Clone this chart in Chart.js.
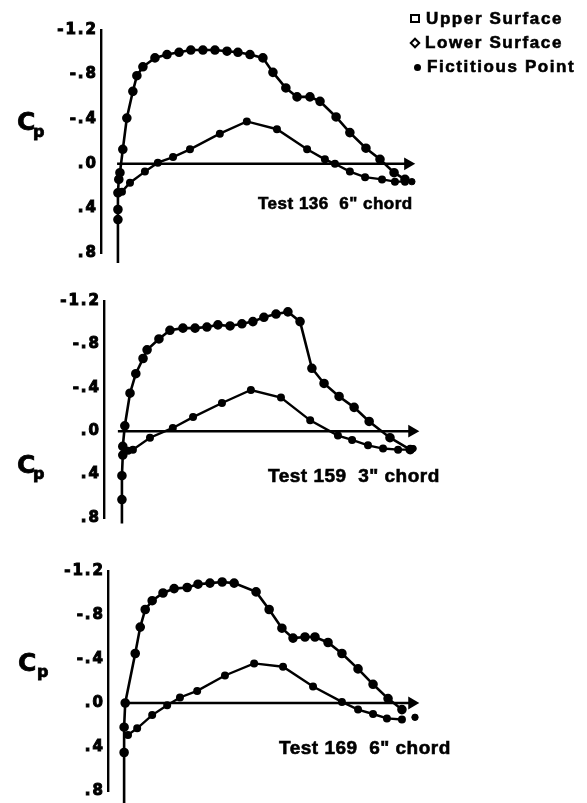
<!DOCTYPE html>
<html>
<head>
<meta charset="utf-8">
<script src="https://cdn.jsdelivr.net/npm/chart.js@4.4.1/dist/chart.umd.min.js"></script>
<style>
  body { margin: 0; background: #fff; }
  #page { position: relative; width: 587px; height: 803px; overflow: hidden; color: #000;
          font-family: "Liberation Sans", Arial, sans-serif; font-weight: bold; }
  canvas { position: absolute; left: 0; }
  .cp { position: absolute; font-size: 25px; line-height: 1; font-family: "DejaVu Sans", sans-serif; -webkit-text-stroke: 0.8px #000; }
  .cp span { position: absolute; font-size: 16px; line-height: 1; }
  .ttl { position: absolute; white-space: pre; line-height: 1; letter-spacing: 0.5px; -webkit-text-stroke: 0.6px #000; }
  .leg { position: absolute; left: 410px; font-size: 17px; line-height: 1; letter-spacing: 1.6px; white-space: pre; -webkit-text-stroke: 0.6px #000; }
  .leg i { display: inline-block; box-sizing: border-box; margin-right: 6px; vertical-align: 1px; }
  .sq { width: 10px; height: 9px; border: 2px solid #000; }
  .dm { width: 8px; height: 8px; border: 2px solid #000; transform: rotate(45deg); margin-left: 1px; }
  .dt { width: 7px; height: 7px; border-radius: 50%; background: #000; margin-left: 4px; }
</style>
</head>
<body>
<div id="page">
  <canvas id="c136" width="587" height="270" style="top:0px"></canvas>
  <canvas id="c159" width="587" height="260" style="top:270px"></canvas>
  <canvas id="c169" width="587" height="273" style="top:530px"></canvas>

  <div class="leg" style="top:10px"><i class="sq"></i>Upper Surface</div>
  <div class="leg" style="top:34px"><i class="dm"></i>Lower Surface</div>
  <div class="leg" style="top:58px"><i class="dt"></i>Fictitious Point</div>

  <div class="cp" style="left:17px;top:109px">C<span style="left:16px;top:15px">p</span></div>
  <div class="cp" style="left:17px;top:452px">C<span style="left:16px;top:14px">p</span></div>
  <div class="cp" style="left:18px;top:650px">C<span style="left:19px;top:14px">p</span></div>

  <div class="ttl" style="left:258px;top:195px;font-size:17px">Test 136  6" chord</div>
  <div class="ttl" style="left:268px;top:466px;font-size:19px">Test 159  3" chord</div>
  <div class="ttl" style="left:279px;top:738px;font-size:19px">Test 169  6" chord</div>
</div>

<script>
// y axis (Cp, negative up)
var cpTicks = [-1.2, -0.8, -0.4, 0, 0.4, 0.8];
var cpTickLabels = ['-1.2', '-.8', '-.4', '.0', '.4', '.8'];

// Test 136, 6" chord  (x/c, Cp)
var t136UpperX  = [0, 0, 0, 0, 0.003, 0.007, 0.017, 0.031, 0.052, 0.066, 0.087, 0.129, 0.171, 0.213, 0.254, 0.296, 0.338, 0.380, 0.418, 0.460, 0.505, 0.540, 0.585, 0.624, 0.669, 0.704, 0.760, 0.808, 0.864, 0.913, 0.962, 1.0];
var t136UpperCp = [0.89, 0.50, 0.41, 0.26, 0.14, 0.08, -0.13, -0.41, -0.65, -0.79, -0.87, -0.95, -0.98, -1.00, -1.02, -1.02, -1.02, -1.01, -1.00, -0.98, -0.95, -0.82, -0.68, -0.60, -0.60, -0.56, -0.42, -0.28, -0.14, -0.04, 0.08, 0.14];
var t136LowerX  = [0, 0.014, 0.042, 0.094, 0.139, 0.192, 0.251, 0.355, 0.449, 0.554, 0.659, 0.721, 0.756, 0.808, 0.861, 0.920, 0.965, 1.0];
var t136LowerCp = [0.26, 0.25, 0.17, 0.07, -0.01, -0.06, -0.13, -0.27, -0.38, -0.31, -0.13, -0.04, 0.0, 0.07, 0.12, 0.14, 0.16, 0.16];
var t136Fict = [1.024, 0.16];

// Test 159, 3" chord
var t159UpperX  = [0, 0, 0, 0.003, 0.003, 0.010, 0.028, 0.048, 0.073, 0.087, 0.128, 0.166, 0.211, 0.253, 0.294, 0.332, 0.374, 0.415, 0.453, 0.491, 0.533, 0.574, 0.616, 0.657, 0.699, 0.751, 0.803, 0.855, 0.927, 0.997];
var t159UpperCp = [0.85, 0.63, 0.41, 0.22, 0.14, -0.05, -0.35, -0.53, -0.67, -0.75, -0.85, -0.93, -0.95, -0.95, -0.96, -0.98, -0.97, -0.99, -1.01, -1.05, -1.08, -1.10, -1.01, -0.58, -0.44, -0.32, -0.22, -0.09, 0.06, 0.17];
var t159LowerX  = [0.003, 0.021, 0.038, 0.097, 0.176, 0.246, 0.346, 0.446, 0.550, 0.651, 0.747, 0.796, 0.851, 0.903, 0.955, 0.997];
var t159LowerCp = [0.22, 0.18, 0.17, 0.06, -0.03, -0.13, -0.26, -0.38, -0.31, -0.10, 0.04, 0.08, 0.13, 0.16, 0.17, 0.17];
var t159Fict = [1.007, 0.16];

// Test 169, 6" chord
var t169UpperX  = [0, 0, 0, 0.004, 0.040, 0.058, 0.076, 0.101, 0.140, 0.180, 0.227, 0.266, 0.309, 0.353, 0.396, 0.475, 0.522, 0.568, 0.608, 0.651, 0.687, 0.734, 0.784, 0.842, 0.896, 0.950, 1.0];
var t169UpperCp = [0.91, 0.45, 0.22, 0.0, -0.45, -0.69, -0.85, -0.93, -1.00, -1.04, -1.05, -1.08, -1.09, -1.10, -1.09, -1.01, -0.85, -0.68, -0.59, -0.60, -0.60, -0.55, -0.45, -0.31, -0.17, -0.04, 0.06];
var t169LowerX  = [0.014, 0.047, 0.101, 0.155, 0.201, 0.263, 0.363, 0.468, 0.572, 0.680, 0.784, 0.842, 0.896, 0.946, 1.0];
var t169LowerCp = [0.29, 0.23, 0.11, 0.02, -0.05, -0.11, -0.25, -0.36, -0.33, -0.15, -0.01, 0.06, 0.10, 0.14, 0.15];
var t169Fict = [1.047, 0.13];

function pts(xs, ys) {
    return xs.map(function (x, i) { return { x: x, y: ys[i] }; });
}

// wide lettering like the scanned figure
var spacing = {
    id: 'spacing',
    beforeDraw: function (chart) { chart.ctx.letterSpacing = '2px'; },
    afterDraw: function (chart) { chart.ctx.letterSpacing = '0px'; }
};

var panels = [
    { id: 'c136', ux: t136UpperX, uy: t136UpperCp, lx: t136LowerX, ly: t136LowerCp, fict: t136Fict,
      chord: [-0.003, 1.010], xr: [-0.059, 1.122], pad: { top: 30, bottom: 17, left: 41, right: 147 } },
    { id: 'c159', ux: t159UpperX, uy: t159UpperCp, lx: t159LowerX, ly: t159LowerCp, fict: t159Fict,
      chord: [-0.014, 1.003], xr: [-0.062, 1.100], pad: { top: 31, bottom: 9, left: 44, right: 147 } },
    { id: 'c169', ux: t169UpperX, uy: t169UpperCp, lx: t169LowerX, ly: t169LowerCp, fict: t169Fict,
      chord: [0.004, 1.036], xr: [-0.058, 1.137], pad: { top: 41, bottom: 12, left: 48, right: 147 } }
];

panels.forEach(function (p) {
    var ctx = document.getElementById(p.id).getContext('2d');
    new Chart(ctx, {
        type: 'scatter',
        data: {
            datasets: [{
                label: 'Upper Surface',
                data: pts(p.ux, p.uy),
                showLine: true,
                borderColor: '#000',
                backgroundColor: '#000',
                borderWidth: 2.6,
                pointRadius: function (c) { return c.dataIndex === 0 ? 0 : 3.5; },
                clip: false
            },
            {
                label: 'Lower Surface',
                data: pts(p.lx, p.ly),
                showLine: true,
                borderColor: '#000',
                backgroundColor: '#000',
                borderWidth: 2.4,
                pointRadius: 2.8,
                clip: false
            },
            {
                label: 'Fictitious Point',
                data: [{ x: p.fict[0], y: p.fict[1] }],
                backgroundColor: '#000',
                borderColor: '#000',
                pointRadius: 3.2,
                clip: false
            },
            {
                // x/c reference line with arrow
                label: 'x/c',
                data: [{ x: p.chord[0], y: 0 }, { x: p.chord[1], y: 0 }],
                showLine: true,
                borderColor: '#000',
                backgroundColor: '#000',
                borderWidth: 2.4,
                pointStyle: 'triangle',
                pointRotation: 90,
                pointRadius: [0, 5],
                clip: false
            }]
        },
        options: {
            responsive: false,
            animation: false,
            layout: { padding: p.pad },
            plugins: { legend: { display: false }, tooltip: { enabled: false } },
            scales: {
                x: { type: 'linear', display: false, min: p.xr[0], max: p.xr[1] },
                y: {
                    reverse: true,
                    min: -1.2,
                    max: 0.8,
                    afterBuildTicks: function (s) { s.ticks = cpTicks.map(function (v) { return { value: v }; }); },
                    afterFit: function (s) { s.width = 60; },
                    border: { color: '#000', width: 2.4 },
                    grid: { drawOnChartArea: false, drawTicks: false },
                    ticks: {
                        color: '#000',
                        padding: 3,
                        textStrokeColor: '#000',
                        textStrokeWidth: 1,
                        font: { family: 'DejaVu Sans', weight: 'bold', size: 15 },
                        callback: function (v, i) { return cpTickLabels[i]; }
                    }
                }
            }
        },
        plugins: [spacing]
    });
});
</script>
</body>
</html>
